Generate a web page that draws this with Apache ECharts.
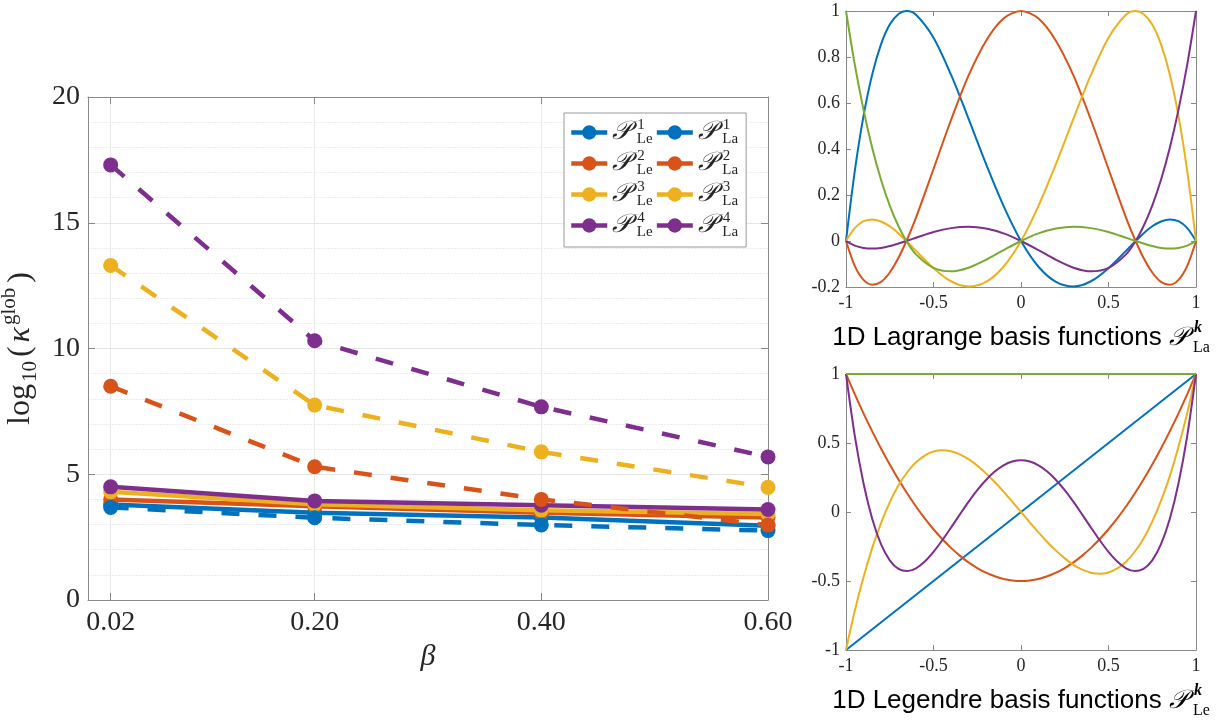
<!DOCTYPE html>
<html><head><meta charset="utf-8">
<script src="https://cdn.jsdelivr.net/npm/echarts@6/dist/echarts.min.js"></script>
<style>html,body{margin:0;padding:0;background:#fff}#c{width:1230px;height:723px}</style>
</head><body><div id="c"></div>
<script>
// ---------- main chart data ----------
const beta = [0.02, 0.20, 0.40, 0.60];
const betaTicks = [0.02, 0.20, 0.40, 0.60];
const kLe1 = [3.80, 3.47, 3.28, 2.95];
const kLe2 = [4.00, 3.73, 3.47, 3.28];
const kLe3 = [4.30, 3.81, 3.57, 3.42];
const kLe4 = [4.50, 3.94, 3.77, 3.60];
const kLa1 = [3.68, 3.27, 2.98, 2.76];
const kLa2 = [8.50, 5.30, 4.00, 2.98];
const kLa3 = [13.30, 7.75, 5.89, 4.48];
const kLa4 = [17.30, 10.31, 7.68, 5.69];

// ---------- Lagrange basis ----------
const laX = [-1,-0.95,-0.9,-0.85,-0.8,-0.75,-0.7,-0.655,-0.6,-0.5,-0.4,-0.3,-0.2,-0.1,0,0.1,0.2,0.3,0.4,0.5,0.6,0.655,0.7,0.75,0.8,0.85,0.9,0.95,1];
const laBlue   = [0,0.303,0.543,0.725,0.855,0.941,0.987,1,0.984,0.884,0.723,0.532,0.335,0.153,0,-0.112,-0.178,-0.198,-0.175,-0.118,-0.043,0,0.033,0.064,0.085,0.094,0.086,0.056,0];
const laRed    = [0,-0.108,-0.169,-0.190,-0.178,-0.137,-0.073,0,0.102,0.313,0.526,0.719,0.870,0.967,1,0.967,0.870,0.719,0.526,0.313,0.102,0,-0.073,-0.137,-0.178,-0.190,-0.169,-0.108,0];
const laYellow = [0,0.056,0.086,0.094,0.085,0.064,0.033,0,-0.043,-0.118,-0.175,-0.198,-0.178,-0.112,0,0.153,0.335,0.532,0.723,0.884,0.984,1,0.987,0.941,0.855,0.725,0.543,0.303,0];
const laPurple = [0,-0.020,-0.030,-0.033,-0.030,-0.022,-0.011,0,0.014,0.039,0.056,0.062,0.054,0.033,0,-0.040,-0.082,-0.116,-0.132,-0.117,-0.058,0,0.064,0.154,0.266,0.404,0.571,0.768,1];
const laGreen  = [1,0.768,0.571,0.404,0.266,0.154,0.064,0,-0.058,-0.117,-0.132,-0.116,-0.082,-0.040,0,0.033,0.054,0.062,0.056,0.039,0.014,0,-0.011,-0.022,-0.030,-0.033,-0.030,-0.020,0];

// ---------- Legendre basis ----------
const leX = [-1,-0.95,-0.9,-0.85,-0.8,-0.75,-0.7,-0.65,-0.6,-0.55,-0.5,-0.45,-0.4,-0.35,-0.3,-0.25,-0.2,-0.15,-0.1,-0.05,0,0.05,0.1,0.15,0.2,0.25,0.3,0.35,0.4,0.45,0.5,0.55,0.6,0.65,0.7,0.75,0.8,0.85,0.9,0.95,1];
const leLineX = [-1, 1];
const leBlue = [-1, 1];
const leGreen = [1, 1];
const leRed = [1,0.854,0.715,0.584,0.46,0.344,0.235,0.134,0.04,-0.046,-0.125,-0.196,-0.26,-0.316,-0.365,-0.406,-0.44,-0.466,-0.485,-0.496,-0.5,-0.496,-0.485,-0.466,-0.44,-0.406,-0.365,-0.316,-0.26,-0.196,-0.125,-0.046,0.04,0.134,0.235,0.344,0.46,0.584,0.715,0.854,1];
const leYellow = [-1,-0.718,-0.473,-0.26,-0.08,0.07,0.193,0.288,0.36,0.409,0.438,0.447,0.44,0.418,0.383,0.336,0.28,0.217,0.148,0.075,0,-0.075,-0.148,-0.217,-0.28,-0.336,-0.383,-0.418,-0.44,-0.447,-0.438,-0.409,-0.36,-0.288,-0.193,-0.07,0.08,0.26,0.473,0.718,1];
const lePurple = [1,0.554,0.208,-0.051,-0.233,-0.35,-0.412,-0.428,-0.408,-0.359,-0.289,-0.205,-0.113,-0.019,0.073,0.158,0.232,0.293,0.338,0.366,0.375,0.366,0.338,0.293,0.232,0.158,0.073,-0.019,-0.113,-0.205,-0.289,-0.359,-0.408,-0.428,-0.412,-0.35,-0.233,-0.051,0.208,0.554,1];

const C = {blue:'#0072BD', red:'#D95319', yellow:'#EDB120', purple:'#7E2F8E', green:'#77AC30'};
const serif = '"Liberation Serif","DejaVu Serif",serif';
const sans = '"Liberation Sans",Arial,sans-serif';
const axisGray = '#8a8a8a';
const txt = '#262626';
const zip = (xs, ys) => xs.map((x, i) => [x, ys[i]]);

const chart = echarts.init(document.getElementById('c'), null, {renderer:'canvas'});

function mainSeries(name, vals, color, dashed) {
  return {
    name, type:'line', xAxisIndex:0, yAxisIndex:0, data: zip(beta, vals),
    symbol:'circle', symbolSize:15, showSymbol:true,
    lineStyle:{color, width:4.5, type: dashed ? [18,19] : 'solid', cap:'butt'},
    itemStyle:{color}, emphasis:{disabled:true}
  };
}
function basisSeries(axis, xs, ys, color) {
  return {
    type:'line', xAxisIndex:axis, yAxisIndex:axis, data: zip(xs, ys),
    symbol:'none', smooth:0.3, lineStyle:{color, width:2}, emphasis:{disabled:true}, silent:true
  };
}
function boxAxis(grid, pos, min, max, interval) {
  return {
    gridIndex:grid, type:'value', position:pos, min, max, interval,
    axisLine:{show:true, onZero:false, lineStyle:{color:axisGray, width:1}},
    axisTick:{show:true, inside:true, length:5, lineStyle:{color:axisGray}},
    axisLabel:{show:false}, splitLine:{show:false}
  };
}
const smallLabel = {color:txt, fontFamily:serif, fontSize:18};

const titleRich = {
  t:{fontFamily:sans, fontSize:26, color:'#000', lineHeight:36},
  P:{fontFamily:serif, fontSize:26, fontStyle:'italic', color:'#000', lineHeight:36},
  k:{fontFamily:serif, fontSize:16, fontStyle:'italic', fontWeight:'bold', color:'#000', verticalAlign:'top', lineHeight:16, padding:[0,0,0,6]},
  s:{fontFamily:serif, fontSize:16, color:'#000', verticalAlign:'bottom', lineHeight:16, padding:[0,0,0,-9]}
};

const option = {
  animation:false,
  backgroundColor:'#fff',
  grid:[
    {left:88, top:97, width:680, height:503, outerBoundsMode:'none', containLabel:false},
    {left:846, top:11, width:350, height:276, outerBoundsMode:'none', containLabel:false},
    {left:846, top:374, width:350, height:276, outerBoundsMode:'none', containLabel:false}
  ],
  legend:{
    left:564, top:113, width:170, orient:'horizontal',
    padding:[5,8,7,5], itemGap:2, itemWidth:36, itemHeight:18, itemTextGap:5,
    borderColor:'#9a9a9a', borderWidth:1, backgroundColor:'#fff',
    lineStyle:{type:'solid', width:4.5},
    data:['Le1','La1','Le2','La2','Le3','La3','Le4','La4'],
    formatter: name => {
      const fam = name.slice(0,2), k = name.slice(2);
      return '{P|𝒫}{sup|' + k + '}{sub|' + fam + '}' + (fam === 'Le' ? '{gap|}' : '');
    },
    textStyle:{
      color:txt,
      rich:{
        P:{fontFamily:serif, fontSize:26, fontStyle:'italic', lineHeight:29, color:txt},
        sup:{fontFamily:serif, fontSize:15, verticalAlign:'top', lineHeight:15, color:txt, padding:[0,0,0,6]},
        sub:{fontFamily:serif, fontSize:15, verticalAlign:'bottom', lineHeight:15, padding:[0,0,0,-8], color:txt},
        gap:{width:14}
      }
    }
  },
  xAxis:[
    {
      gridIndex:0, type:'value', position:'bottom', min:0, max:0.6,
      name:'β', nameLocation:'middle', nameGap:38,
      nameTextStyle:{fontFamily:serif, fontSize:30, fontStyle:'italic', color:txt},
      axisLine:{show:true, onZero:false, lineStyle:{color:axisGray}},
      axisTick:{show:true, inside:true, length:7, customValues:betaTicks, lineStyle:{color:axisGray}},
      axisLabel:{show:true, customValues:betaTicks, margin:9, formatter:v => v.toFixed(2), color:txt, fontFamily:serif, fontSize:28},
      splitLine:{show:true, lineStyle:{color:'#e8e8e8', width:1}}
    },
    {
      gridIndex:0, type:'value', position:'top', min:0, max:0.6,
      axisLine:{show:true, onZero:false, lineStyle:{color:axisGray}},
      axisTick:{show:true, inside:true, length:7, customValues:betaTicks, lineStyle:{color:axisGray}},
      axisLabel:{show:false}, splitLine:{show:false}
    },
    {
      gridIndex:1, type:'value', position:'bottom', min:-1, max:1, interval:0.5,
      name:'{t|1D Lagrange basis functions }{P|𝒫}{k|k}{s|La}', nameLocation:'middle', nameGap:33,
      nameTextStyle:{rich:titleRich},
      axisLine:{show:true, onZero:false, lineStyle:{color:axisGray}},
      axisTick:{show:true, inside:true, length:5, lineStyle:{color:axisGray}},
      axisLabel:{show:true, margin:7, ...smallLabel}, splitLine:{show:false}
    },
    boxAxis(1, 'top', -1, 1, 0.5),
    {
      gridIndex:2, type:'value', position:'bottom', min:-1, max:1, interval:0.5,
      name:'{t|1D Legendre basis functions }{P|𝒫}{k|k}{s|Le}', nameLocation:'middle', nameGap:33,
      nameTextStyle:{rich:titleRich},
      axisLine:{show:true, onZero:false, lineStyle:{color:axisGray}},
      axisTick:{show:true, inside:true, length:5, lineStyle:{color:axisGray}},
      axisLabel:{show:true, margin:7, ...smallLabel}, splitLine:{show:false}
    },
    boxAxis(2, 'top', -1, 1, 0.5)
  ],
  yAxis:[
    {
      gridIndex:0, type:'value', position:'left', min:0, max:20, interval:5,
      name:'{n|log}{s|10}{n|(}{k|κ}{p|glob}{n|)}', nameLocation:'middle', nameGap:34, nameRotate:90,
      nameTextStyle:{rich:{
        n:{fontFamily:serif, fontSize:32, color:txt, lineHeight:42, padding:[0,2,0,2]},
        s:{fontFamily:serif, fontSize:21, color:txt, verticalAlign:'bottom', lineHeight:21, padding:[0,2,0,0]},
        k:{fontFamily:serif, fontSize:32, fontStyle:'italic', color:txt, lineHeight:42, padding:[0,2,0,2]},
        p:{fontFamily:serif, fontSize:21, color:txt, verticalAlign:'top', lineHeight:21, padding:[0,3,0,0]}
      }},
      axisLine:{show:true, onZero:false, lineStyle:{color:axisGray}},
      axisTick:{show:true, inside:true, length:7, lineStyle:{color:axisGray}},
      axisLabel:{show:true, margin:8, color:txt, fontFamily:serif, fontSize:28},
      splitLine:{show:true, lineStyle:{color:'#e6e6e6', width:1}},
      minorTick:{show:false, splitNumber:5},
      minorSplitLine:{show:true, lineStyle:{color:'#ececec', width:1, type:[2,1]}}
    },
    {
      gridIndex:0, type:'value', position:'right', min:0, max:20, interval:5,
      axisLine:{show:true, onZero:false, lineStyle:{color:axisGray}},
      axisTick:{show:true, inside:true, length:7, lineStyle:{color:axisGray}},
      axisLabel:{show:false}, splitLine:{show:false}
    },
    {
      gridIndex:1, type:'value', position:'left', min:-0.2, max:1, interval:0.2,
      axisLine:{show:true, onZero:false, lineStyle:{color:axisGray}},
      axisTick:{show:true, inside:true, length:5, lineStyle:{color:axisGray}},
      axisLabel:{show:true, margin:6, ...smallLabel, formatter:v => String(Math.round(v*10)/10)}, splitLine:{show:false}
    },
    boxAxis(1, 'right', -0.2, 1, 0.2),
    {
      gridIndex:2, type:'value', position:'left', min:-1, max:1, interval:0.5,
      axisLine:{show:true, onZero:false, lineStyle:{color:axisGray}},
      axisTick:{show:true, inside:true, length:5, lineStyle:{color:axisGray}},
      axisLabel:{show:true, margin:6, ...smallLabel}, splitLine:{show:false}
    },
    boxAxis(2, 'right', -1, 1, 0.5)
  ],
  series:[
    mainSeries('Le1', kLe1, C.blue, false),
    mainSeries('Le2', kLe2, C.red, false),
    mainSeries('Le3', kLe3, C.yellow, false),
    mainSeries('Le4', kLe4, C.purple, false),
    mainSeries('La1', kLa1, C.blue, true),
    mainSeries('La2', kLa2, C.red, true),
    mainSeries('La3', kLa3, C.yellow, true),
    mainSeries('La4', kLa4, C.purple, true),
    basisSeries(2, laX, laBlue, C.blue),
    basisSeries(2, laX, laRed, C.red),
    basisSeries(2, laX, laYellow, C.yellow),
    basisSeries(2, laX, laPurple, C.purple),
    basisSeries(2, laX, laGreen, C.green),
    basisSeries(4, leLineX, leBlue, C.blue),
    basisSeries(4, leX, leRed, C.red),
    basisSeries(4, leX, leYellow, C.yellow),
    basisSeries(4, leX, lePurple, C.purple),
    basisSeries(4, leLineX, leGreen, C.green)
  ]
};
chart.setOption(option);
</script>
</body></html>
